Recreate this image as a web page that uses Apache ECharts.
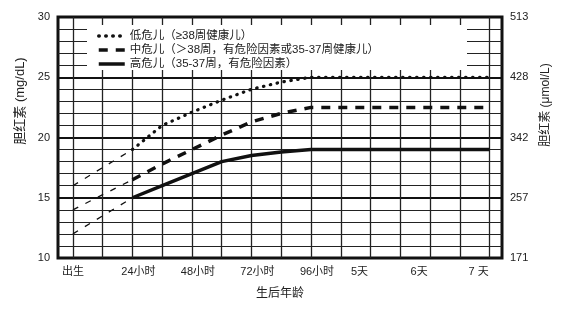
<!DOCTYPE html>
<html>
<head>
<meta charset="utf-8">
<script src="https://cdn.jsdelivr.net/npm/echarts@6/dist/echarts.min.js"></script>
<style>html,body{margin:0;padding:0;background:#fff;}#c{width:572px;height:309px;}</style>
</head>
<body>
<div id="c"></div>
<script>
// ---- data ----
const hours = [24, 36, 48, 60, 72, 84, 96, 120, 144, 168];
const lowRisk = [19, 21, 22.1, 23.1, 24, 24.6, 25, 25, 25, 25];
const mediumRisk = [16.5, 17.8, 19, 20.2, 21.3, 22, 22.5, 22.5, 22.5, 22.5];
const highRisk = [15, 16, 17, 18, 18.5, 18.8, 19, 19, 19, 19];
const extHours = [0, 24];
const lowExt = [16, 19];
const mediumExt = [14, 16.5];
const highExt = [12, 15];
const gridHours = [0, 12, 24, 36, 48, 60, 72, 84, 96, 108, 120, 132, 144, 156, 168];
const xTickValues = [0, 24, 48, 72, 96, 120, 144, 168];
const xTickLabels = ['出生', '24小时', '48小时', '72小时', '96小时', '5天', '6天', '7 天'];
const leftTicks = [10, 15, 20, 25, 30];
const rightTicks = [171, 257, 342, 428, 513];
const seriesNames = ['低危儿（≥38周健康儿）', '中危儿（＞38周，有危险因素或35-37周健康儿）', '高危儿（35-37周，有危险因素）'];

const FONT = 'Liberation Sans, "Noto Sans CJK SC", sans-serif';
const pair = (xs, ys) => xs.map((x, i) => [x, ys[i]]);

const chart = echarts.init(document.getElementById('c'), null, {renderer: 'canvas'});
chart.setOption({
  animation: false,
  backgroundColor: '#fff',
  color: ['#111', '#111', '#111', '#111', '#111', '#111'],
  textStyle: {fontFamily: FONT, color: '#222'},
  grid: {left: 58, right: 70, top: 17, bottom: 51, show: true, borderColor: '#111', borderWidth: 3, backgroundColor: '#fff'},
  graphic: [{
    type: 'rect', z: 1,
    shape: {x: 87, y: 25, width: 380, height: 45},
    style: {fill: '#fff'}
  }],
  legend: {
    data: seriesNames,
    orient: 'vertical', left: 92, top: 25, z: 5,
    itemWidth: 26, itemHeight: 12, itemGap: 2,
    itemStyle: {opacity: 0},
    lineStyle: {width: 3.5},
    textStyle: {fontSize: 11.5, color: '#222', fontFamily: FONT, lineHeight: 12}
  },
  xAxis: {
    type: 'value', min: -6, max: 173,
    name: '生后年龄', nameLocation: 'middle', nameGap: 30,
    nameTextStyle: {fontSize: 12, color: '#222', fontFamily: FONT},
    axisLine: {show: false},
    axisTick: {show: false, customValues: gridHours},
    splitLine: {show: true, lineStyle: {color: '#222', width: 1.3}},
    axisLabel: {
      customValues: xTickValues, margin: 8, fontSize: 11, color: '#222',
      formatter: function (v) {
        const i = xTickValues.indexOf(v);
        if (i < 0) return '';
        if (i === 0) return '{a|' + xTickLabels[i] + '}';
        return (v <= 96 ? '{h|' : '{d|') + xTickLabels[i] + '}';
      },
      rich: {
        a: {fontSize: 11, color: '#222', fontFamily: FONT},
        h: {fontSize: 11, color: '#222', fontFamily: FONT, padding: [0, 0, 0, 12]},
        d: {fontSize: 11, color: '#222', fontFamily: FONT, padding: [0, 22, 0, 0]}
      }
    }
  },
  yAxis: [{
    type: 'value', min: 10, max: 30, interval: 1, position: 'left',
    name: '胆红素 (mg/dL)', nameLocation: 'middle', nameGap: 24,
    nameTextStyle: {fontSize: 13, color: '#222', fontFamily: FONT, padding: [0, 0, 0, 73]},
    axisLine: {show: false}, axisTick: {show: false},
    splitLine: {show: true, lineStyle: {color: '#222', width: 1.2}},
    axisLabel: {margin: 8, fontSize: 11, color: '#222',
      formatter: v => (leftTicks.indexOf(v) >= 0 ? String(v) : '')}
  }, {
    type: 'value', min: 10, max: 30, interval: 5, position: 'right',
    name: '胆红素 (μmol/L)', nameLocation: 'middle', nameGap: 38,
    nameTextStyle: {fontSize: 12, color: '#222', fontFamily: FONT, padding: [0, 0, 0, 65]},
    axisLine: {show: false}, axisTick: {show: false},
    splitLine: {show: true, lineStyle: {color: '#111', width: 2}},
    axisLabel: {margin: 8, fontSize: 11, color: '#222',
      formatter: v => { const i = leftTicks.indexOf(v); return i >= 0 ? String(rightTicks[i]) : ''; }}
  }],
  series: [
    {name: seriesNames[0], type: 'line', data: pair(hours, lowRisk), symbol: 'none', z: 3,
      itemStyle: {color: '#111'},
      lineStyle: {color: '#111', width: 3.2, type: [0.5, 6.5], cap: 'round'}},
    {name: seriesNames[1], type: 'line', data: pair(hours, mediumRisk), symbol: 'none', z: 3,
      itemStyle: {color: '#111'},
      lineStyle: {color: '#111', width: 3.5, type: [9, 8]}},
    {name: seriesNames[2], type: 'line', data: pair(hours, highRisk), symbol: 'none', z: 3,
      itemStyle: {color: '#111'},
      lineStyle: {color: '#111', width: 3.5, type: 'solid'}},
    {name: 'lowExt', type: 'line', data: pair(extHours, lowExt), symbol: 'none', z: 3,
      lineStyle: {color: '#111', width: 1.3, type: [6, 8]}},
    {name: 'mediumExt', type: 'line', data: pair(extHours, mediumExt), symbol: 'none', z: 3,
      lineStyle: {color: '#111', width: 1.3, type: [6, 8]}},
    {name: 'highExt', type: 'line', data: pair(extHours, highExt), symbol: 'none', z: 3,
      lineStyle: {color: '#111', width: 1.3, type: [6, 8]}}
  ]
});
</script>
</body>
</html>
